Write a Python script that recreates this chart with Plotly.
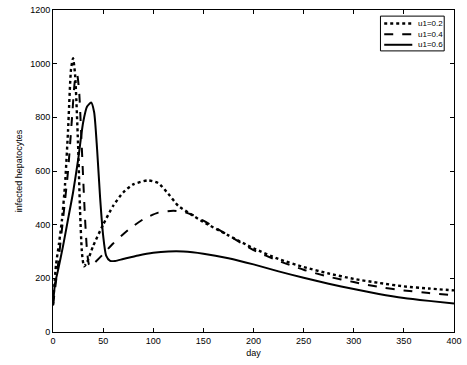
import plotly.graph_objects as go

# Infected hepatocyte counts over time for three treatment efficacies u1
days_02 = [0, 3, 6, 9, 12, 15, 18, 20, 22, 25, 27, 29, 31, 34, 40, 50, 60, 70, 80, 95,
           105, 115, 125, 135, 150, 175, 200, 225, 250, 275, 300, 325, 350, 375, 400]
infected_02 = [100, 250, 330, 420, 550, 750, 980, 1020, 960, 700, 450, 290, 245, 260, 320, 400,
               470, 520, 550, 565, 555, 515, 470, 445, 410, 360, 312, 272, 242, 218, 198, 183,
               170, 162, 155]

days_04 = [0, 5, 10, 15, 19, 22, 24, 26, 28, 30, 32, 34, 36, 38, 42, 50, 60, 75, 90, 105,
           120, 130, 140, 150, 175, 200, 225, 250, 275, 300, 325, 350, 375, 400]
infected_04 = [100, 250, 420, 600, 800, 940, 960, 900, 750, 580, 420, 300, 250, 245, 260, 290,
               330, 380, 420, 445, 452, 448, 435, 415, 360, 305, 265, 232, 206, 186, 168, 155,
               145, 137]

days_06 = [0, 2, 5, 10, 15, 20, 25, 30, 34, 38, 41, 44, 47, 50, 53, 57, 62, 70, 85, 100,
           115, 130, 150, 175, 200, 225, 250, 275, 300, 325, 350, 375, 400]
infected_06 = [100, 180, 230, 320, 420, 520, 640, 780, 840, 855, 820, 680, 500, 360, 285, 265,
               265, 272, 285, 295, 300, 300, 292, 275, 252, 226, 202, 180, 160, 142, 127, 116,
               106]

labels = ["u1=0.2", "u1=0.4", "u1=0.6"]
series = [
    (labels[0], days_02, infected_02, "dot", 2.4),
    (labels[1], days_04, infected_04, "dash", 2.0),
    (labels[2], days_06, infected_06, "solid", 2.0),
]

x_ticks = [0, 50, 100, 150, 200, 250, 300, 350, 400]
y_ticks = [0, 200, 400, 600, 800, 1000, 1200]

fig = go.Figure()
for name, x, y, dash, width in series:
    fig.add_trace(go.Scatter(
        x=x, y=y, name=name, mode="lines", showlegend=False,
        line=dict(color="black", dash=dash, width=width, shape="spline", smoothing=0.6),
    ))

# Compact boxed key in the upper right corner of the plot area
fig.add_shape(type="rect", xref="paper", yref="paper",
              x0=0.8166, x1=0.9756, y0=0.873, y1=0.981,
              line=dict(color="black", width=1), fillcolor="white", layer="above")
row_y = [0.958, 0.925, 0.892]
for (name, _, _, dash, width), ry in zip(series, row_y):
    fig.add_shape(type="line", xref="paper", yref="paper",
                  x0=0.826, x1=0.896, y0=ry, y1=ry, layer="above",
                  line=dict(color="black", dash=dash, width=width))
    fig.add_annotation(text=name, xref="paper", yref="paper", x=0.905, y=ry,
                       xanchor="left", yanchor="middle", showarrow=False,
                       font=dict(size=8, color="black"))

axis_common = dict(
    showgrid=False, zeroline=False, showline=True, linecolor="black", linewidth=1,
    mirror="ticks", ticks="inside", ticklen=4, tickcolor="black",
    ticklabeloverflow="allow",
    tickfont=dict(family="Liberation Sans, Arial", size=9, color="black"),
)

fig.update_layout(
    width=467, height=365,
    margin=dict(l=53, r=5, t=9, b=33),
    paper_bgcolor="white", plot_bgcolor="white",
    font=dict(family="Liberation Sans, Arial", color="black"),
    xaxis=dict(range=[0, 400], tickvals=x_ticks,
               title=dict(text="day", font=dict(size=9), standoff=4), **axis_common),
    yaxis=dict(range=[0, 1200], tickvals=y_ticks,
               title=dict(text="infected hepatocytes", font=dict(size=9), standoff=6),
               **axis_common),
    showlegend=False,
)

fig.write_html("out.html")
